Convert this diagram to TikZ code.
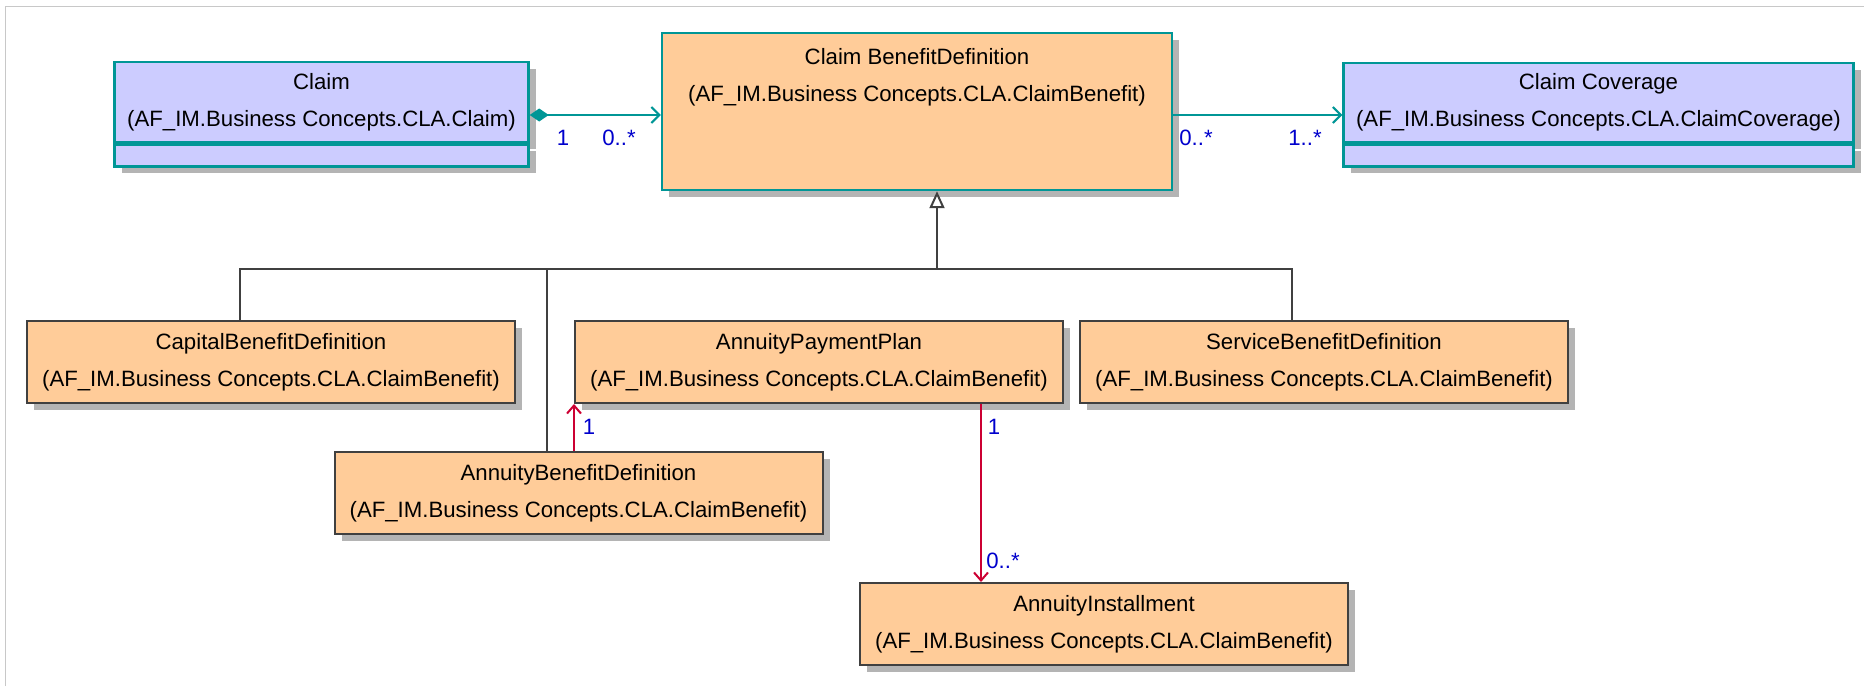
\documentclass[tikz,border=0pt]{standalone}
\usepackage{fontspec}
\setmainfont{Liberation Sans}
\usetikzlibrary{arrows.meta, positioning, shadows}
\definecolor{umlteal}{RGB}{0,150,150}
\definecolor{umllilac}{RGB}{204,204,255}
\definecolor{umlorange}{RGB}{255,204,153}
\definecolor{umlgray}{RGB}{64,64,64}
\definecolor{umlred}{RGB}{204,0,51}
\definecolor{umlblue}{RGB}{0,0,204}
\definecolor{umlshadow}{RGB}{180,180,180}
\definecolor{umlframe}{RGB}{200,200,200}
\tikzset{
  umlshade/.style={drop shadow={shadow xshift=3.5pt, shadow yshift=-3.5pt, fill=umlshadow, opacity=1}},
  concept/.style={rectangle, draw=umlteal, fill=umllilac, line width=1.2pt,
    align=center, inner sep=0pt, minimum width=255pt, umlshade},
  entity/.style={rectangle, draw=umlgray, fill=umlorange, line width=1pt,
    align=center, inner sep=0pt, minimum width=244pt, minimum height=41pt, umlshade},
  assoc/.style={color=umlteal, line width=1pt},
  genline/.style={color=umlgray, line width=1pt},
  link/.style={color=umlred, line width=1pt, -{Straight Barb[length=4pt,width=7pt]}},
  mult/.style={text=umlblue, inner sep=1pt}
}

\begin{document}
\begin{tikzpicture}[x=0.5pt, y=-0.5pt, every node/.style={font=\fontsize{11.1}{18.5}\selectfont}]
    \useasboundingbox (0,0) rectangle (1864,686);
    \draw[umlframe, line width=0.5pt] (5.5,686) -- (5.5,6.5) -- (1864,6.5);

    % Top row
    \node[concept, minimum width=207pt, minimum height=40pt] (claim) at (321.5,102)
      {Claim\\(AF\_IM.Business Concepts.CLA.Claim)};
    \node[concept, minimum width=207pt, minimum height=11pt, anchor=north] (claim-ops) at (claim.south) {};
    \node[concept, fill=umlorange, minimum height=78.5pt] (cbd) at (917,111.5) {};
    \node[align=center] (cbd-txt) at (917,77) {Claim BenefitDefinition\\(AF\_IM.Business Concepts.CLA.ClaimBenefit)};
    \node[concept, minimum height=39.5pt] (cov) at (1598.5,102.5)
      {Claim Coverage\\(AF\_IM.Business Concepts.CLA.ClaimCoverage)};
    \node[concept, minimum height=11pt, anchor=north] (cov-ops) at (cov.south) {};

    % Subclasses
    \node[entity] (capital) at (271,362) {CapitalBenefitDefinition\\(AF\_IM.Business Concepts.CLA.ClaimBenefit)};
    \node[entity] (app) at (819,362) {AnnuityPaymentPlan\\(AF\_IM.Business Concepts.CLA.ClaimBenefit)};
    \node[entity] (service) at (1324,362) {ServiceBenefitDefinition\\(AF\_IM.Business Concepts.CLA.ClaimBenefit)};
    \node[entity] (abd) at (578.5,493) {AnnuityBenefitDefinition\\(AF\_IM.Business Concepts.CLA.ClaimBenefit)};
    \node[entity] (inst) at (1104,624) {AnnuityInstallment\\(AF\_IM.Business Concepts.CLA.ClaimBenefit)};

    % Associations
    \coordinate (a1) at ([yshift=-6.5pt]claim.east);
    \draw[assoc, {Diamond[length=9.5pt,width=6.5pt]}-{Straight Barb[length=4pt,width=8pt]}] (a1) -- (a1 -| cbd.west);
    \coordinate (a2) at (cbd.east |- a1);
    \draw[assoc, -{Straight Barb[length=4pt,width=8pt]}] (a2) -- (a2 -| cov.west);
    \node[mult] (m-claim) at (563,138) {1};
    \node[mult] (m-cbd-l) at (619,138) {0..*};
    \node[mult] (m-cbd-r) at (1196,138) {0..*};
    \node[mult] (m-cov) at (1305,138) {1..*};

    % Generalisation
    \coordinate (bus) at (937,269);
    \coordinate (abd-up) at ([xshift=-16pt]abd.north);
    \draw[genline, -{Triangle[open, length=8.5pt, width=7.5pt, fill=white]}] (bus) -- (bus |- cbd.south);
    \draw[genline] ([xshift=-15.5pt]capital.north) |- (bus) -| ([xshift=-16pt]service.north);
    \draw[genline] (abd-up) -- (abd-up |- bus);

    % Payment plan links
    \coordinate (r1) at (app.south west |- abd.north);
    \draw[link] (r1) -- (app.south west);
    \coordinate (r2) at ([xshift=81pt]app.south);
    \draw[link] (r2) -- (r2 |- inst.north);
    \node[mult] (m-abd) at (589,427) {1};
    \node[mult] (m-app) at (994,427) {1};
    \node[mult] (m-inst) at (1003,561) {0..*};
  \end{tikzpicture}
\end{document}
